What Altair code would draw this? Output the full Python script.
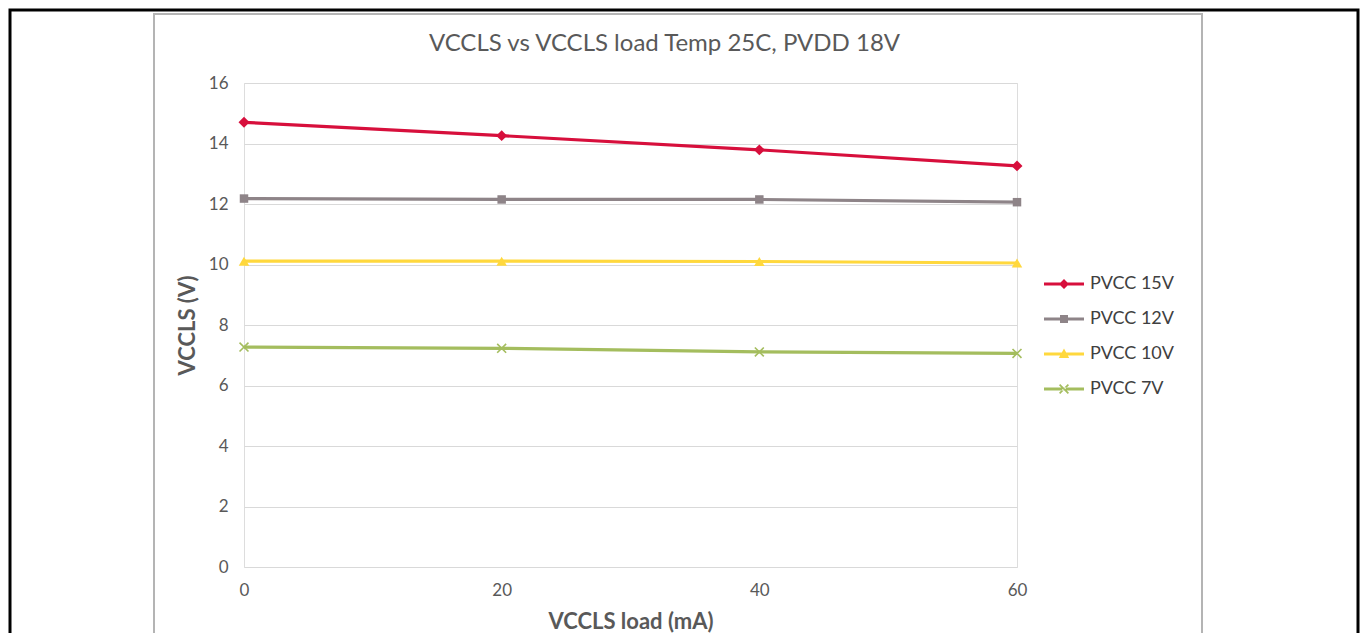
import altair as alt
import pandas as pd

# ---- data ----
loads = [0, 20, 40, 60]
series_names = ["PVCC 15V", "PVCC 12V", "PVCC 10V", "PVCC 7V"]
pvcc15 = [14.70, 14.26, 13.79, 13.26]
pvcc12 = [12.18, 12.15, 12.15, 12.06]
pvcc10 = [10.11, 10.11, 10.10, 10.05]
pvcc7 = [7.27, 7.23, 7.11, 7.06]
colors = ["#D70F3C", "#8E8488", "#FFD83D", "#A4BD5E"]
y_ticks = [0, 2, 4, 6, 8, 10, 12, 14, 16]
x_ticks = [0, 20, 40, 60]

rows = []
for name, vals in zip(series_names, [pvcc15, pvcc12, pvcc10, pvcc7]):
    for x, v in zip(loads, vals):
        rows.append({"load": x, "vccls": v, "series": name})
df = pd.DataFrame(rows)

FONT = "Lato"
W, H = 773, 484
PAD_L, PAD_T = 236, 75
PAD_R = 1352 - PAD_L - W
PAD_B = 625 - PAD_T - H

xenc = alt.X(
    "load:Q",
    scale=alt.Scale(domain=[0, 60], nice=False, zero=False),
    axis=alt.Axis(values=x_ticks, title="VCCLS load (mA)", grid=False, domain=False,
                  ticks=False, tickSize=0, labelPadding=15, titlePadding=13,
                  labelFlush=False,
                  labelFontSize=17, labelColor="#595959", labelFont=FONT,
                  titleFontSize=22, titleFontWeight="bold", titleColor="#595959",
                  titleFont=FONT),
)
yenc = alt.Y(
    "vccls:Q",
    scale=alt.Scale(domain=[0, 16], nice=False),
    axis=alt.Axis(values=y_ticks, title="VCCLS (V)", grid=True, gridColor="#D9D9D9",
                  gridWidth=1, domain=False, ticks=False, tickSize=0, labelPadding=16,
                  labelFlush=False,
                  titlePadding=9, labelFontSize=17, labelColor="#595959",
                  labelFont=FONT, titleFontSize=22, titleFontWeight="bold",
                  titleColor="#595959", titleFont=FONT),
)

base = alt.Chart(df)

marker_shapes = ["diamond", "square", "triangle-up", "M-1,-1L1,1M-1,1L1,-1"]
marker_sizes = [120, 72, 110, 80]
series_layers = []
for name, col, shp, sz in zip(series_names, colors, marker_shapes, marker_sizes):
    sub = base.transform_filter(alt.datum.series == name)
    series_layers.append(sub.mark_line(strokeWidth=3.2, color=col).encode(x=xenc, y=yenc))
    filled = not shp.startswith("M")
    series_layers.append(sub.mark_point(shape=shp, size=sz, filled=filled, opacity=1,
                                        strokeWidth=1.6, color=col).encode(x=xenc, y=yenc))

# legend symbols: line + marker, built as filled paths
bar = "M-1,-0.075L1,-0.075L1,0.075L-1,0.075Z"
leg_paths = [
    bar + "M0,-0.25L0.25,0L0,0.25L-0.25,0Z",
    bar + "M-0.2,-0.2L0.2,-0.2L0.2,0.2L-0.2,0.2Z",
    bar + "M0,-0.27L0.26,0.2L-0.26,0.2Z",
    bar + "M-0.25,-0.19L-0.19,-0.25L0.25,0.19L0.19,0.25Z"
          "M-0.25,0.19L-0.19,0.25L0.25,-0.19L0.19,-0.25Z",
]
legend_cfg = alt.Legend(title=None, orient="none", legendX=800, legendY=181,
                        symbolSize=1600, symbolStrokeWidth=0, symbolOpacity=1,
                        labelFontSize=18, labelColor="#404040", labelFont=FONT,
                        rowPadding=6, labelOffset=6)
legend_layer = base.mark_point(filled=True, opacity=0).encode(
    x=xenc, y=yenc,
    color=alt.Color("series:N", scale=alt.Scale(domain=series_names, range=colors),
                    legend=legend_cfg),
    shape=alt.Shape("series:N", scale=alt.Scale(domain=series_names, range=leg_paths),
                    legend=legend_cfg),
)

one = pd.DataFrame({"k": [0]})
gray_frame = alt.Chart(one).mark_rect(fillOpacity=0, stroke="#B4B4B4", strokeWidth=2).encode(
    x=alt.value(-90), x2=alt.value(958), y=alt.value(-69), y2=alt.value(600)
)
black_frame = alt.Chart(one).mark_rect(fillOpacity=0, stroke="#000000", strokeWidth=3).encode(
    x=alt.value(-234), x2=alt.value(1114), y=alt.value(-73), y2=alt.value(600)
)

chart = alt.layer(
    black_frame, gray_frame, *series_layers, legend_layer
).properties(
    width=W, height=H,
    title=alt.TitleParams("VCCLS vs VCCLS load Temp 25C, PVDD 18V", fontSize=24,
                          font=FONT, fontWeight="normal", color="#595959",
                          anchor="middle", frame="group", dx=34, offset=-47),
    autosize=alt.AutoSizeParams(type="none"),
    padding={"left": PAD_L, "top": PAD_T, "right": PAD_R, "bottom": PAD_B},
).configure_view(stroke=None).configure(background="white")

chart.save("out.html", embed_options={"renderer": "svg", "actions": False})
